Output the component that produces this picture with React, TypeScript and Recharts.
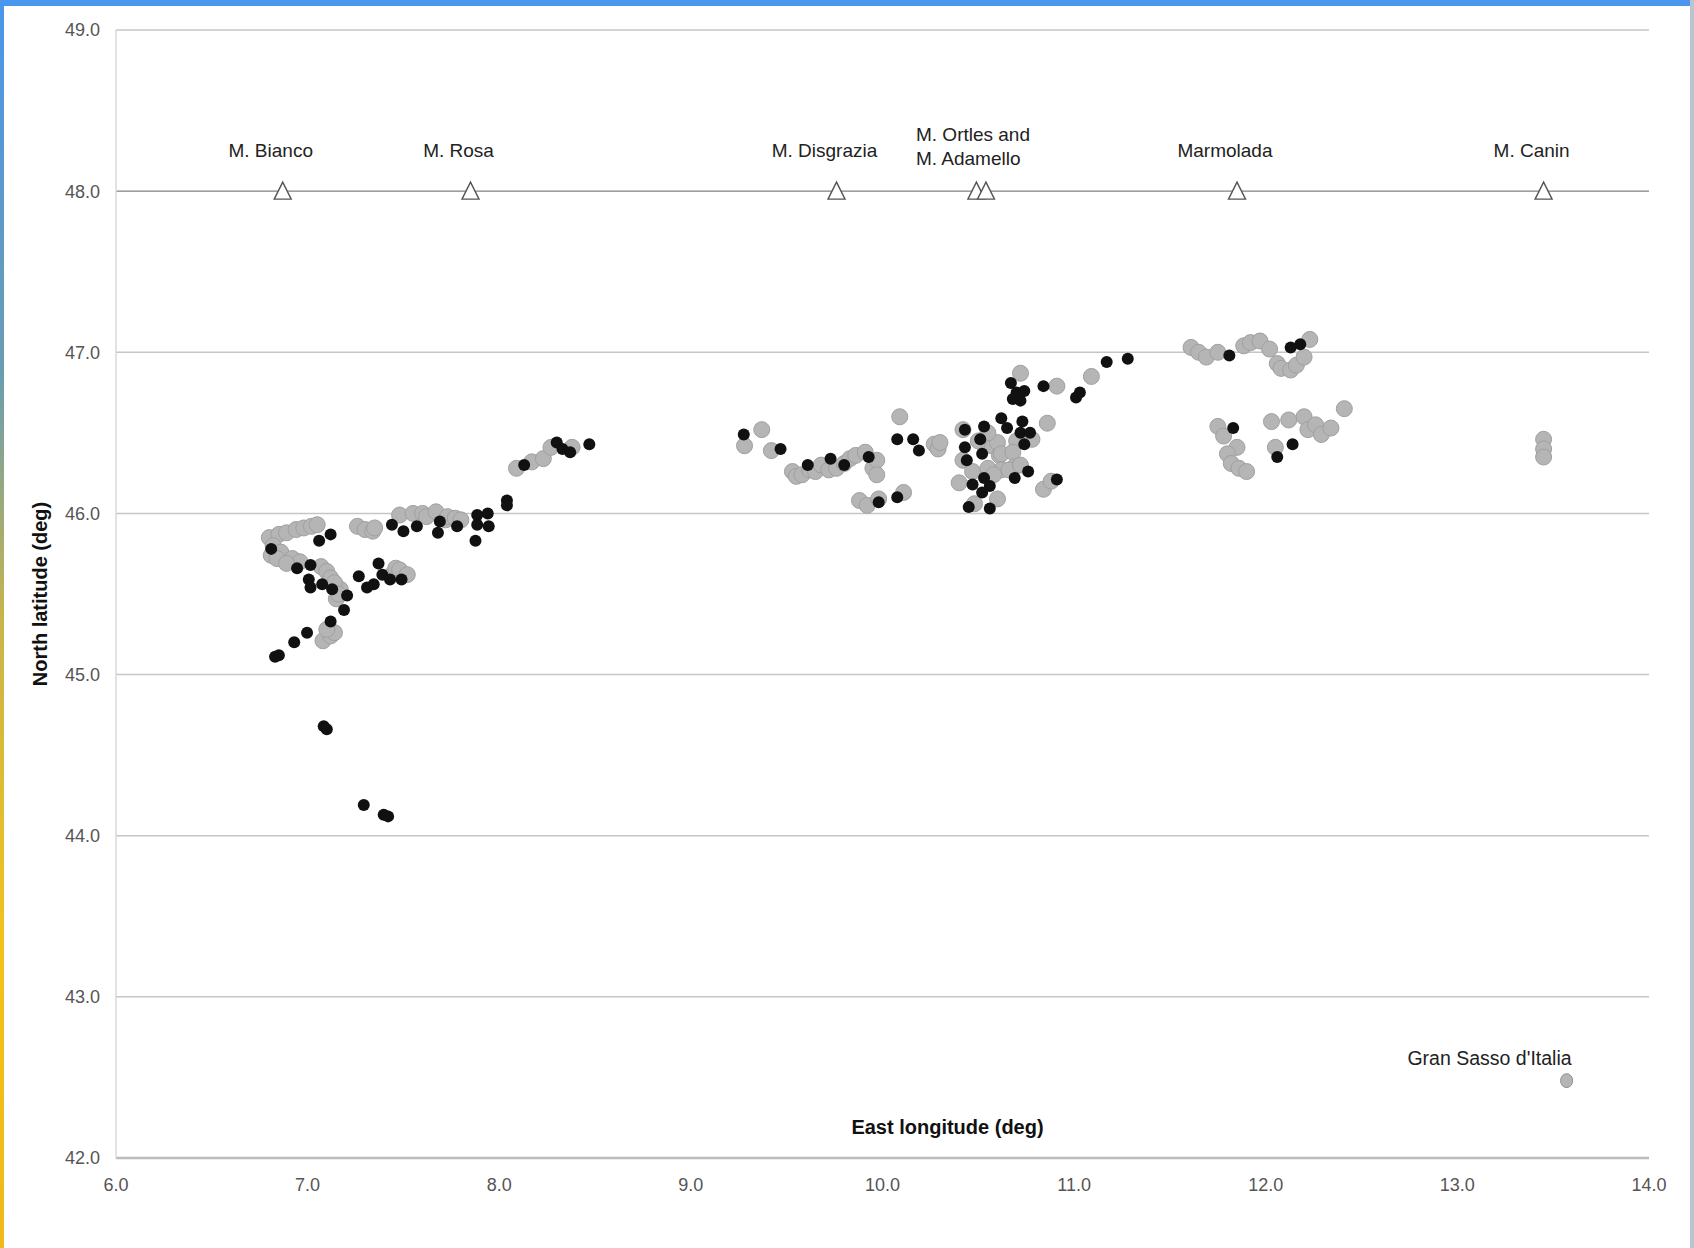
import React from 'react';
import { ScatterChart, Scatter, XAxis, YAxis, CartesianGrid, ReferenceLine, Label } from 'recharts';

// Survey sites, [east longitude, north latitude] in degrees
const greySites: [number, number][] = [
  [6.80, 45.85], [6.85, 45.87], [6.89, 45.88], [6.94, 45.9], [6.98, 45.91], [7.02, 45.92], [7.05, 45.93],
  [6.82, 45.8], [6.86, 45.76], [6.92, 45.72], [6.96, 45.7],
  [6.81, 45.74], [6.84, 45.72], [6.89, 45.69], [7.07, 45.67], [7.1, 45.64], [7.15, 45.47], [7.17, 45.53],
  [7.12, 45.6], [7.14, 45.57], [7.16, 45.5],
  [7.08, 45.21], [7.12, 45.24], [7.14, 45.26], [7.1, 45.28],
  [7.26, 45.92], [7.3, 45.9], [7.34, 45.89], [7.35, 45.91],
  [7.48, 45.99], [7.55, 46.0], [7.6, 46.0], [7.62, 45.98], [7.67, 46.01], [7.72, 45.96], [7.73, 45.98], [7.77, 45.97], [7.8, 45.96],
  [7.44, 45.62], [7.46, 45.66], [7.48, 45.65], [7.52, 45.62],
  [8.09, 46.28], [8.17, 46.32], [8.23, 46.34], [8.27, 46.41], [8.38, 46.41],
  [9.28, 46.42], [9.37, 46.52], [9.42, 46.39], [9.53, 46.26], [9.55, 46.23], [9.58, 46.24], [9.62, 46.27],
  [9.65, 46.26], [9.68, 46.3], [9.72, 46.27], [9.76, 46.28], [9.8, 46.31], [9.83, 46.34], [9.86, 46.36],
  [9.91, 46.38], [9.95, 46.28], [9.97, 46.33], [9.97, 46.24],
  [9.88, 46.08], [9.92, 46.05], [9.98, 46.09], [10.11, 46.13], [10.09, 46.6], [10.27, 46.43], [10.29, 46.4], [10.3, 46.44],
  [10.42, 46.52], [10.42, 46.33], [10.47, 46.26], [10.57, 46.42], [10.6, 46.44], [10.61, 46.36], [10.62, 46.37],
  [10.5, 46.45], [10.55, 46.5], [10.7, 46.45], [10.78, 46.46], [10.68, 46.38],
  [10.4, 46.19], [10.48, 46.06], [10.6, 46.09], [10.62, 46.27], [10.69, 46.29], [10.84, 46.15], [10.88, 46.2],
  [10.55, 46.28], [10.58, 46.24], [10.66, 46.27], [10.72, 46.3],
  [10.72, 46.87], [10.86, 46.56], [10.91, 46.79], [11.09, 46.85],
  [11.61, 47.03], [11.65, 47.0], [11.69, 46.97], [11.75, 47.0], [11.885, 47.04], [11.92, 47.06], [11.97, 47.07],
  [12.02, 47.02], [12.06, 46.93], [12.08, 46.9], [12.13, 46.89], [12.16, 46.92], [12.2, 46.97], [12.23, 47.08],
  [11.75, 46.54], [11.78, 46.48], [11.85, 46.41], [11.8, 46.37], [11.82, 46.31], [11.86, 46.28], [11.9, 46.26],
  [12.03, 46.57], [12.05, 46.41], [12.12, 46.58], [12.2, 46.6], [12.22, 46.52], [12.26, 46.55], [12.29, 46.49],
  [12.34, 46.53], [12.41, 46.65],
  [13.45, 46.46], [13.45, 46.4], [13.45, 46.35],
];

const blackSites: [number, number][] = [
  [6.81, 45.78], [7.06, 45.83], [7.12, 45.87], [6.945, 45.66], [7.015, 45.68], [7.006, 45.59], [7.015, 45.54],
  [7.076, 45.56], [7.128, 45.53], [7.206, 45.49], [7.19, 45.4], [7.12, 45.33], [6.997, 45.26], [6.93, 45.2],
  [6.85, 45.12], [6.83, 45.11],
  [7.267, 45.61], [7.31, 45.54], [7.37, 45.69], [7.39, 45.62], [7.43, 45.59], [7.49, 45.59], [7.345, 45.56],
  [7.44, 45.93], [7.5, 45.89], [7.57, 45.92], [7.69, 45.95], [7.68, 45.88], [7.78, 45.92], [7.885, 45.99],
  [7.94, 46.0], [7.885, 45.93], [7.945, 45.92], [7.876, 45.83], [8.04, 46.08], [8.04, 46.05],
  [7.084, 44.68], [7.1, 44.66], [7.293, 44.19], [7.397, 44.13], [7.42, 44.12],
  [8.13, 46.3], [8.3, 46.44], [8.33, 46.4], [8.37, 46.38], [8.47, 46.43],
  [9.276, 46.49], [9.468, 46.4], [9.61, 46.3], [9.729, 46.34], [9.8, 46.3], [9.928, 46.35], [10.077, 46.46],
  [10.16, 46.46], [10.19, 46.39], [9.98, 46.07], [10.077, 46.1],
  [10.67, 46.81], [10.7, 46.75], [10.74, 46.76], [10.68, 46.71], [10.72, 46.7], [10.84, 46.79], [11.01, 46.72],
  [11.03, 46.75], [11.17, 46.94],
  [10.43, 46.52], [10.53, 46.54], [10.51, 46.46], [10.62, 46.59], [10.65, 46.53], [10.73, 46.57], [10.72, 46.5],
  [10.77, 46.5], [10.74, 46.43],
  [10.43, 46.41], [10.52, 46.37], [10.44, 46.33], [10.47, 46.18], [10.53, 46.22], [10.56, 46.17], [10.52, 46.13],
  [10.69, 46.22], [10.76, 46.26], [10.91, 46.21], [10.45, 46.04], [10.56, 46.03],
  [11.28, 46.96], [11.81, 46.98], [12.13, 47.03], [12.18, 47.05], [11.83, 46.53], [12.14, 46.43], [12.06, 46.35],
];

// Reference peaks drawn along the 48° line
const peakLabels = ['M. Bianco', 'M. Rosa', 'M. Disgrazia', '', 'M. Ortles and\nM. Adamello', 'Marmolada', 'M. Canin'];
const peakLon = [6.87, 7.85, 9.76, 10.49, 10.54, 11.85, 13.45];
const peakLat = [48.0, 48.0, 48.0, 48.0, 48.0, 48.0, 48.0];

const southPeak = [{ lon: 13.57, lat: 42.48, label: "Gran Sasso d'Italia" }];

const lonTicks = [6, 7, 8, 9, 10, 11, 12, 13, 14];
const latTicks = [42, 43, 44, 45, 46, 47, 48, 49];

const greyData = greySites.map(([lon, lat]) => ({ lon, lat }));
const blackData = blackSites.map(([lon, lat]) => ({ lon, lat }));
const peakData = peakLon.map((lon, i) => ({ lon, lat: peakLat[i], label: peakLabels[i] }));

const FONT = '"Liberation Sans", Arial, sans-serif';

const GreyDot = (p: any) => (
  <circle cx={p.cx} cy={p.cy} r={8} fill="#b5b5b5" stroke="#a0a0a0" strokeWidth={1} />
);

const BlackDot = (p: any) => <circle cx={p.cx} cy={p.cy} r={6} fill="#111" />;

const PeakMark = (p: any) => {
  const { cx, cy } = p;
  const label: string = p.payload?.label ?? '';
  const lines = label ? label.split('\n') : [];
  const multi = lines.length > 1;
  const first = cy - 34 - (lines.length - 1) * 16;
  return (
    <g>
      <path
        d={`M${cx},${cy - 9} L${cx + 8.5},${cy + 8} L${cx - 8.5},${cy + 8} Z`}
        fill="#fff"
        stroke="#555"
        strokeWidth={1.4}
      />
      {lines.map((t, i) => (
        <text
          key={i}
          x={multi ? cx - 70 : cx - 12}
          y={first + i * 24}
          textAnchor={multi ? 'start' : 'middle'}
          fontFamily={FONT}
          fontSize={19}
          fill="#222"
        >
          {t}
        </text>
      ))}
    </g>
  );
};

const SouthMark = (p: any) => (
  <g>
    <ellipse cx={p.cx} cy={p.cy} rx={6} ry={7} fill="#b5b5b5" stroke="#8f8f8f" strokeWidth={1} />
    <text x={p.cx + 5} y={p.cy - 16} textAnchor="end" fontFamily={FONT} fontSize={19.5} fill="#222">
      {p.payload?.label}
    </text>
  </g>
);

const XTitle = (props: any) => {
  const vb = props.viewBox;
  return (
    <text
      x={vb.x + vb.width / 2 + 65}
      y={vb.y - 24}
      textAnchor="middle"
      fontFamily={FONT}
      fontSize={20}
      fontWeight="bold"
      fill="#111"
    >
      East longitude (deg)
    </text>
  );
};

const YTitle = (props: any) => {
  const vb = props.viewBox;
  const x = 40;
  const y = vb.y + vb.height / 2;
  return (
    <text
      x={x}
      y={y}
      transform={`rotate(-90 ${x} ${y})`}
      textAnchor="middle"
      dominantBaseline="central"
      fontFamily={FONT}
      fontSize={20}
      fontWeight="bold"
      fill="#111"
    >
      North latitude (deg)
    </text>
  );
};

const tickStyle = { fontFamily: FONT, fontSize: 18, fill: '#555' };

export default function App() {
  return (
    <div
      style={{
        position: 'absolute',
        top: 0,
        left: 0,
        width: 1694,
        height: 1248,
        background: '#fff',
        overflow: 'hidden',
      }}
    >
      <div style={{ position: 'absolute', top: 0, left: 0, width: 1694, height: 6, background: '#4a96ec' }} />
      <div
        style={{
          position: 'absolute',
          top: 0,
          left: 0,
          width: 4,
          height: 1248,
          background: 'linear-gradient(to bottom, #4a96ec 0%, #6a9db0 30%, #c9b54a 50%, #f2c21c 75%, #f0b81a 100%)',
        }}
      />
      <div style={{ position: 'absolute', top: 0, left: 1690, width: 4, height: 1248, background: '#b8c4d2' }} />
      <div style={{ position: 'absolute', top: 0, left: 0 }}>
        <ScatterChart width={1694} height={1248} margin={{ top: 30, right: 45, bottom: 40, left: 0 }}>
          <CartesianGrid vertical={false} stroke="#c6c6c6" strokeWidth={1.5} />
          <ReferenceLine y={48} stroke="#a0a0a0" strokeWidth={1.5} ifOverflow="visible" />
          <XAxis
            type="number"
            dataKey="lon"
            domain={[6, 14]}
            ticks={lonTicks}
            tickFormatter={(v: number) => v.toFixed(1)}
            tick={tickStyle}
            tickLine={false}
            tickMargin={14}
            axisLine={{ stroke: '#bcbcbc', strokeWidth: 2.5 }}
            height={50}
            allowDataOverflow
            label={<Label content={XTitle} />}
          />
          <YAxis
            type="number"
            dataKey="lat"
            domain={[42, 49]}
            ticks={latTicks}
            tickFormatter={(v: number) => v.toFixed(1)}
            tick={tickStyle}
            tickLine={false}
            tickMargin={10}
            axisLine={{ stroke: '#d8d8d8', strokeWidth: 1.5 }}
            width={116}
            allowDataOverflow
            label={<Label content={YTitle} />}
          />
          <Scatter data={greyData} shape={GreyDot} isAnimationActive={false} />
          <Scatter data={blackData} shape={BlackDot} isAnimationActive={false} />
          <Scatter data={peakData} shape={PeakMark} isAnimationActive={false} />
          <Scatter data={southPeak} shape={SouthMark} isAnimationActive={false} />
        </ScatterChart>
      </div>
    </div>
  );
}
